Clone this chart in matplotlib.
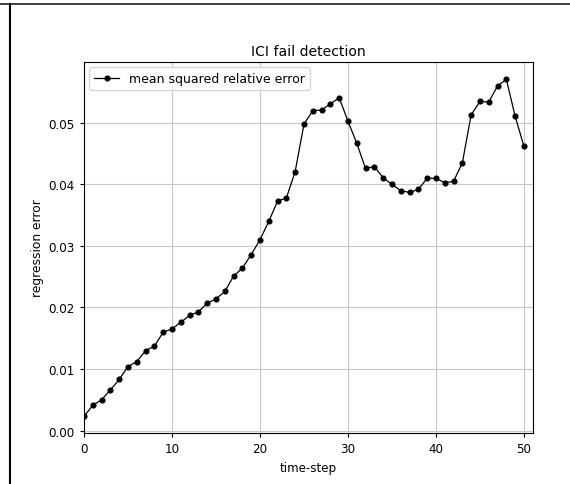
import matplotlib
matplotlib.use('Agg')
import matplotlib.pyplot as plt
from matplotlib.lines import Line2D

# regression error per time-step
steps = list(range(51))
errors = [0.0023, 0.0041, 0.0050, 0.0066, 0.0083, 0.0104, 0.0112, 0.0130, 0.0137, 0.0160,
          0.0165, 0.0176, 0.0187, 0.0193, 0.0207, 0.0214, 0.0226, 0.0251, 0.0264, 0.0286,
          0.0310, 0.0340, 0.0373, 0.0378, 0.0421, 0.0498, 0.0520, 0.0521, 0.0531, 0.0541,
          0.0503, 0.0467, 0.0426, 0.0429, 0.0411, 0.0400, 0.0390, 0.0387, 0.0392, 0.0410,
          0.0410, 0.0403, 0.0405, 0.0435, 0.0513, 0.0535, 0.0534, 0.0560, 0.0571, 0.0511,
          0.0462]
xticks = [0, 10, 20, 30, 40, 50]
yticks = [0.00, 0.01, 0.02, 0.03, 0.04, 0.05]

fig = plt.figure(figsize=(5.7, 4.85), dpi=100)
ax = fig.add_axes([0.1474, 0.1052, 0.7872, 0.7648])

ax.plot(steps, errors, color='black', marker='o', markersize=3.4, linewidth=0.9,
        label='mean squared relative error')
ax.set_xlim(0, 51)
ax.set_ylim(-0.0004, 0.0599)
ax.set_xticks(xticks)
ax.set_yticks(yticks)
ax.set_yticklabels(['%.2f' % v for v in yticks])
ax.tick_params(labelsize=8.6, width=0.8, length=3)
ax.grid(True, color='#c8c8c8', linewidth=0.8)
for s in ax.spines.values():
    s.set_linewidth(0.8)

ax.set_title('ICI fail detection', fontsize=10.1, pad=5)
ax.set_xlabel('time-step', fontsize=8.6, labelpad=4)
ax.set_ylabel('regression error', fontsize=8.8, labelpad=3)
ax.legend(loc='upper left', fontsize=9.0, borderaxespad=0.4)

# screenshot frame lines
fig.add_artist(Line2D([0, 1], [1 - 4.5 / 485, 1 - 4.5 / 485], color='#333333', linewidth=1.3))
fig.add_artist(Line2D([10 / 570, 10 / 570], [0, 1 - 4.5 / 485], color='black', linewidth=1.5))

fig.savefig('out.png', dpi=100)
